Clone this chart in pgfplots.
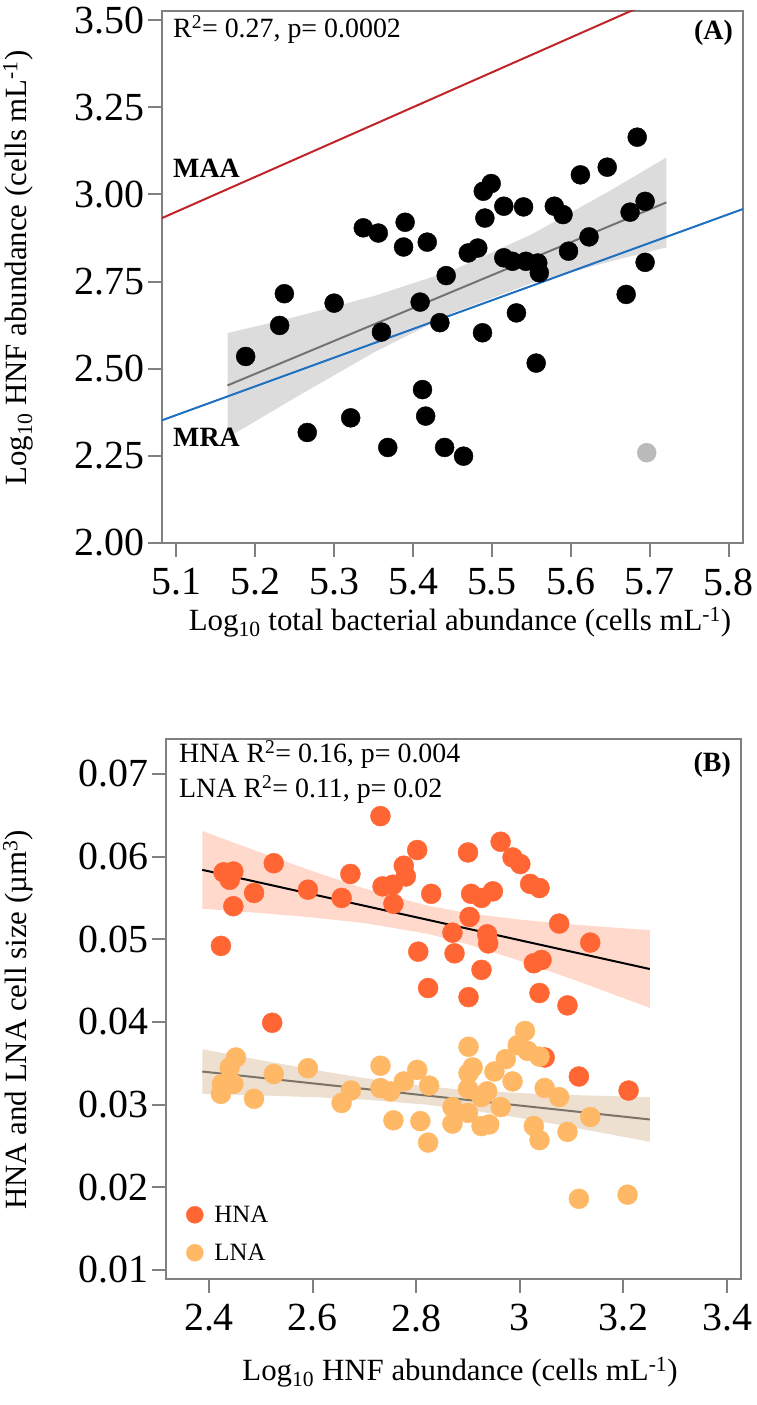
\documentclass[border=0pt]{standalone}
\usepackage{pgfplots}
\pgfplotsset{compat=1.18}
\usepackage{fontspec}
\setmainfont{Liberation Serif}
\definecolor{hna}{RGB}{255,102,51}
\definecolor{lna}{RGB}{255,184,102}
\definecolor{hnaband}{RGB}{255,132,85}
\definecolor{lnaband}{RGB}{195,152,98}
\definecolor{lnaline}{RGB}{125,115,103}
\definecolor{maa}{RGB}{192,35,40}
\definecolor{mra}{RGB}{32,112,192}
\definecolor{boxgray}{RGB}{128,128,128}
\newcommand{\tickfont}{\fontsize{40}{44}\selectfont}
\newcommand{\labfont}{\fontsize{31}{36}\selectfont}
\newcommand{\annfont}{\fontsize{28}{32}\selectfont}
\pgfplotsset{
  common/.style={
    scale only axis,
    axis line style={draw=boxgray, line width=2bp},
    tick style={draw=boxgray, line width=2bp},
    tick align=outside,
    major tick length=14bp,
    xtick pos=bottom, ytick pos=left,
    tick label style={font=\tickfont},
    xticklabel style={yshift=-8bp},
    scaled x ticks=false, scaled y ticks=false,
    clip=true,
  }
}
\begin{document}
\begin{tikzpicture}
\useasboundingbox (0bp,0bp) rectangle (757bp,1405bp);
% ---------------- Panel A ----------------
\begin{axis}[common,
  at={(162bp,862bp)}, anchor=south west,
  width=581bp, height=532bp,
  xmin=5.082, xmax=5.818, ymin=2.0, ymax=3.526,
  xtick={5.1,5.2,5.3,5.4,5.5,5.6,5.7,5.8},
  xticklabels={\textrm{5.1},\textrm{5.2},\textrm{5.3},\textrm{5.4},\textrm{5.5},\textrm{5.6},\textrm{5.7},\textrm{5.8}},
  ytick={2.0,2.25,2.5,2.75,3.0,3.25,3.5},
  yticklabels={\textrm{2.00},\textrm{2.25},\textrm{2.50},\textrm{2.75},\textrm{3.00},\textrm{3.25},\textrm{3.50}},
]
\addplot[only marks, mark=*, mark size=9.5bp, color=black] coordinates {
(5.684,3.164) (5.646,3.078) (5.612,3.056) (5.499,3.031) (5.489,3.009)
(5.515,2.966) (5.540,2.964) (5.579,2.966) (5.590,2.942) (5.491,2.932)
(5.390,2.920) (5.337,2.904) (5.356,2.889) (5.388,2.849) (5.418,2.863)
(5.482,2.846) (5.470,2.832) (5.675,2.949) (5.694,2.980) (5.623,2.878)
(5.597,2.837) (5.515,2.818) (5.526,2.808) (5.543,2.808) (5.558,2.803)
(5.560,2.775) (5.442,2.767) (5.694,2.805) (5.670,2.713) (5.237,2.715)
(5.300,2.688) (5.409,2.691) (5.231,2.624) (5.188,2.535) (5.360,2.605)
(5.434,2.632) (5.488,2.603) (5.531,2.660) (5.556,2.516) (5.412,2.440)
(5.416,2.364) (5.321,2.359) (5.266,2.317) (5.368,2.274) (5.440,2.274)
(5.464,2.249)
};
\addplot[only marks, mark=*, mark size=9.5bp, color=black!27] coordinates {(5.696,2.259)};
\addplot[fill=black!57, fill opacity=0.24, draw=none] coordinates {
(5.165,2.602) (5.25,2.648) (5.35,2.708) (5.45,2.782) (5.55,2.885) (5.65,3.011) (5.721,3.106)
(5.721,2.848) (5.65,2.808) (5.55,2.745) (5.45,2.660) (5.35,2.546) (5.25,2.416) (5.165,2.302)
} -- cycle;
\addplot[draw=black!55, line width=2bp] coordinates {(5.165,2.452) (5.721,2.977)};
\addplot[draw=maa, line width=2bp] coordinates {(5.082,2.932) (5.72,3.570)};
\addplot[draw=mra, line width=2bp] coordinates {(5.082,2.352) (5.818,2.958)};
\end{axis}
% ---------------- Panel B ----------------
\begin{axis}[common,
  at={(166bp,126bp)}, anchor=south west,
  width=575bp, height=540bp,
  xmin=2.317, xmax=3.427, ymin=0.0089, ymax=0.07423,
  xtick={2.4,2.6,2.8,3.0,3.2,3.4},
  xticklabels={\textrm{2.4},\textrm{2.6},\textrm{2.8},\textrm{3},\textrm{3.2},\textrm{3.4}},
  ytick={0.01,0.02,0.03,0.04,0.05,0.06,0.07},
  yticklabels={\textrm{0.01},\textrm{0.02},\textrm{0.03},\textrm{0.04},\textrm{0.05},\textrm{0.06},\textrm{0.07}},
  legend style={at={(axis description cs:0.035,0.028)}, anchor=south west,
    draw=none, fill=none, font=\fontsize{25}{30}\selectfont, row sep=16bp,
    inner sep=0pt},
  legend cell align=left,
  legend image code/.code={\path[draw=none, fill=none] (0bp,0bp) -- (26bp,0bp);
    \draw[#1, mark size=8.5bp] plot coordinates {(8.5bp,0bp)};},
]
\addplot[only marks, mark=*, mark size=10bp, color=hna] coordinates {
(2.731,0.0649) (2.802,0.0608) (2.900,0.0605) (2.963,0.0618) (2.986,0.0599)
(3.001,0.0591) (2.525,0.0592) (2.776,0.0589) (2.780,0.0576) (2.673,0.0579)
(2.428,0.0581) (2.447,0.0582) (2.440,0.0572) (2.735,0.0564) (2.755,0.0566)
(2.591,0.0560) (2.487,0.0556) (2.829,0.0555) (2.906,0.0555) (2.926,0.0550)
(2.948,0.0558) (3.020,0.0567) (3.038,0.0562) (2.656,0.0550) (2.756,0.0543)
(2.447,0.0540) (2.903,0.0527) (3.076,0.0519) (2.870,0.0508) (2.937,0.0506)
(2.939,0.0495) (3.136,0.0496) (2.423,0.0492) (2.874,0.0483) (2.804,0.0485)
(3.027,0.0471) (3.042,0.0475) (2.926,0.0463) (2.823,0.0441) (2.901,0.0430)
(3.038,0.0435) (3.092,0.0420) (2.522,0.0399) (3.048,0.0357) (3.114,0.0334)
(3.210,0.0317)
};
\addlegendentry{HNA}
\addplot[only marks, mark=*, mark size=10bp, color=lna] coordinates {
(3.010,0.0389) (2.996,0.0372) (2.901,0.0370) (3.015,0.0365) (3.038,0.0358)
(2.452,0.0357) (2.440,0.0345) (2.973,0.0355) (2.731,0.0347) (2.909,0.0345)
(2.591,0.0344) (2.802,0.0342) (2.951,0.0340) (2.525,0.0337) (2.901,0.0338)
(2.986,0.0328) (2.776,0.0328) (2.447,0.0325) (2.425,0.0325) (2.825,0.0323)
(2.674,0.0317) (2.731,0.0320) (2.750,0.0316) (2.900,0.0319) (2.937,0.0316)
(3.048,0.0320) (3.076,0.0309) (2.423,0.0313) (2.487,0.0307) (2.656,0.0302)
(2.870,0.0297) (2.926,0.0309) (2.900,0.0290) (2.963,0.0297) (3.136,0.0285)
(2.756,0.0281) (2.808,0.0280) (2.870,0.0277) (2.926,0.0274) (2.941,0.0276)
(3.027,0.0274) (3.092,0.0267) (3.038,0.0257) (2.823,0.0254) (3.114,0.0186)
(3.208,0.0191)
};
\addlegendentry{LNA}
\addplot[forget plot, fill=hnaband, fill opacity=0.3, draw=none] coordinates {
(2.387,0.0631) (2.5,0.06049) (2.6,0.05824) (2.7,0.05614) (2.82,0.05409) (2.9,0.05315) (3.0,0.05238) (3.1,0.0518) (3.251,0.0511)
(3.251,0.0417) (3.1,0.0452) (3.0,0.04740) (2.9,0.04939) (2.82,0.05069) (2.7,0.05196) (2.6,0.05264) (2.5,0.05317) (2.387,0.0537)
} -- cycle;
\addplot[forget plot, fill=lnaband, fill opacity=0.3, draw=none] coordinates {
(2.387,0.0367) (2.5,0.03537) (2.6,0.03424) (2.7,0.0332) (2.82,0.03219) (2.9,0.03175) (3.0,0.03139) (3.1,0.03116) (3.251,0.0309)
(3.251,0.0255) (3.1,0.02728) (3.0,0.02839) (2.9,0.02937) (2.82,0.02999) (2.7,0.0306) (2.6,0.03090) (2.5,0.03111) (2.387,0.0313)
} -- cycle;
\addplot[forget plot, draw=black, line width=2bp] coordinates {(2.387,0.0584) (3.251,0.0464)};
\addplot[forget plot, draw=lnaline, line width=2bp] coordinates {(2.387,0.0340) (3.251,0.0282)};
\end{axis}
% ---------------- Text ----------------
\node[rotate=90, font=\labfont] at (18bp,1137bp) {Log\textsubscript{10} HNF abundance (cells mL\textsuperscript{-1})};
\node[font=\labfont] at (460bp,783bp) {Log\textsubscript{10} total bacterial abundance (cells mL\textsuperscript{-1})};
\node[font=\annfont, anchor=base west, inner sep=0pt] at (173bp,1367bp) {R\textsuperscript{2}= 0.27, p= 0.0002};
\node[font=\annfont\bfseries, anchor=base east, inner sep=0pt] at (733bp,1365bp) {(A)};
\node[font=\annfont\bfseries, anchor=base west, inner sep=0pt] at (173bp,1227bp) {MAA};
\node[font=\annfont\bfseries, anchor=base west, inner sep=0pt] at (173bp,958bp) {MRA};
\node[rotate=90, font=\labfont] at (18bp,385bp) {HNA and LNA cell size (µm\textsuperscript{3})};
\node[font=\labfont] at (460bp,33bp) {Log\textsubscript{10} HNF abundance (cells mL\textsuperscript{-1})};
\node[font=\annfont, anchor=base west, inner sep=0pt] at (179bp,642bp) {HNA R\textsuperscript{2}= 0.16, p= 0.004};
\node[font=\annfont, anchor=base west, inner sep=0pt] at (179bp,607bp) {LNA R\textsuperscript{2}= 0.11, p= 0.02};
\node[font=\annfont\bfseries, anchor=base east, inner sep=0pt] at (731bp,633bp) {(B)};
\end{tikzpicture}
\end{document}
